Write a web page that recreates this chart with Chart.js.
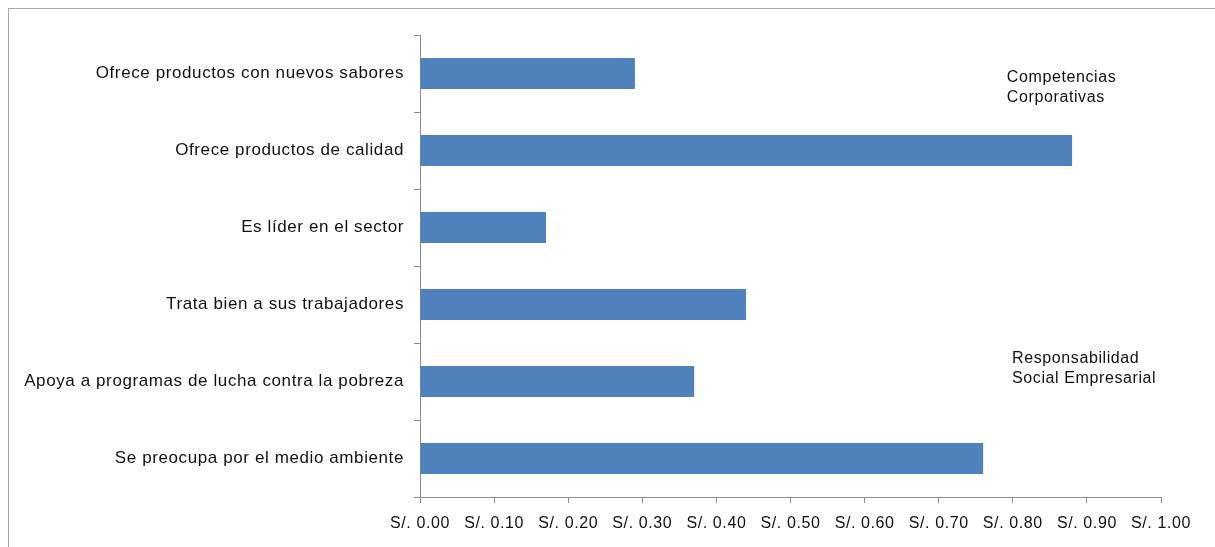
<!DOCTYPE html>
<html>
<head>
<meta charset="utf-8">
<script src="https://cdn.jsdelivr.net/npm/chart.js@4"></script>
<style>
  html, body { margin: 0; padding: 0; background: #fff; }
  #wrap { position: relative; width: 1215px; height: 547px; overflow: hidden; }
  #frame { position: absolute; left: 8px; top: 8px; width: 1300px; height: 600px;
           border-top: 1px solid #a8a8a8; border-left: 1px solid #a8a8a8; }
  canvas { position: absolute; left: 0; top: 0; }
</style>
</head>
<body>
<div id="wrap">
  <div id="frame"></div>
  <canvas id="chart" width="1215" height="547"></canvas>
</div>
<script>
var categories = [
  'Ofrece productos con nuevos sabores',
  'Ofrece productos de calidad',
  'Es líder en el sector',
  'Trata bien a sus trabajadores',
  'Apoya a programas de lucha contra la pobreza',
  'Se preocupa por el medio ambiente'
];
var values = [0.29, 0.88, 0.17, 0.44, 0.37, 0.76];
var xTicks = [0, 0.1, 0.2, 0.3, 0.4, 0.5, 0.6, 0.7, 0.8, 0.9, 1.0];
var notes = [
  { lines: ['Competencias', 'Corporativas'], x: 0.792, y: 0.05 },
  { lines: ['Responsabilidad', 'Social Empresarial'], x: 0.799, y: 3.7 }
];

// el texto del original se ve un poco estirado
var spacingPlugin = {
  id: 'spacing',
  beforeDraw: function(chart) {
    chart.ctx.letterSpacing = '0.6px';
  }
};

// texto de las agrupaciones a la derecha
var notesPlugin = {
  id: 'notes',
  afterDraw: function(chart) {
    var ctx = chart.ctx;
    var xs = chart.scales.x, ys = chart.scales.y;
    ctx.save();
    ctx.font = '16px "Liberation Sans", Arial, sans-serif';
    ctx.fillStyle = '#111';
    ctx.textBaseline = 'middle';
    ctx.textAlign = 'left';
    notes.forEach(function(n) {
      var px = xs.getPixelForValue(n.x);
      var py = ys.getPixelForValue(n.y);
      n.lines.forEach(function(t, i) {
        ctx.fillText(t, px, py + i * 20);
      });
    });
    ctx.restore();
  }
};

var axisColor = '#8c8c8c';

new Chart(document.getElementById('chart').getContext('2d'), {
  type: 'bar',
  data: {
    labels: categories,
    datasets: [{
      data: values,
      backgroundColor: '#4F81BD',
      barPercentage: 0.4,
      categoryPercentage: 1
    }]
  },
  options: {
    indexAxis: 'y',
    responsive: false,
    animation: false,
    layout: { padding: { top: 35, right: 54, bottom: 0, left: 0 } },
    plugins: { legend: { display: false }, tooltip: { enabled: false } },
    scales: {
      x: {
        min: 0,
        max: 1,
        afterBuildTicks: function(scale) {
          scale.ticks = xTicks.map(function(v) { return { value: v }; });
        },
        afterFit: function(scale) { scale.height = 50; },
        border: { color: axisColor, width: 1 },
        grid: { drawOnChartArea: false, drawTicks: true, tickLength: 6, color: axisColor },
        ticks: {
          color: '#111',
          padding: 11,
          maxRotation: 0,
          font: { family: '"Liberation Sans", Arial, sans-serif', size: 16 },
          callback: function(v) { return 'S/. ' + Number(v).toFixed(2); }
        }
      },
      y: {
        afterFit: function(scale) { scale.width = 420; },
        border: { color: axisColor, width: 1 },
        grid: { drawOnChartArea: false, drawTicks: true, tickLength: 6, color: axisColor, offset: true },
        ticks: {
          color: '#111',
          padding: 10,
          font: { family: '"Liberation Sans", Arial, sans-serif', size: 17 }
        }
      }
    }
  },
  plugins: [spacingPlugin, notesPlugin]
});
</script>
</body>
</html>
